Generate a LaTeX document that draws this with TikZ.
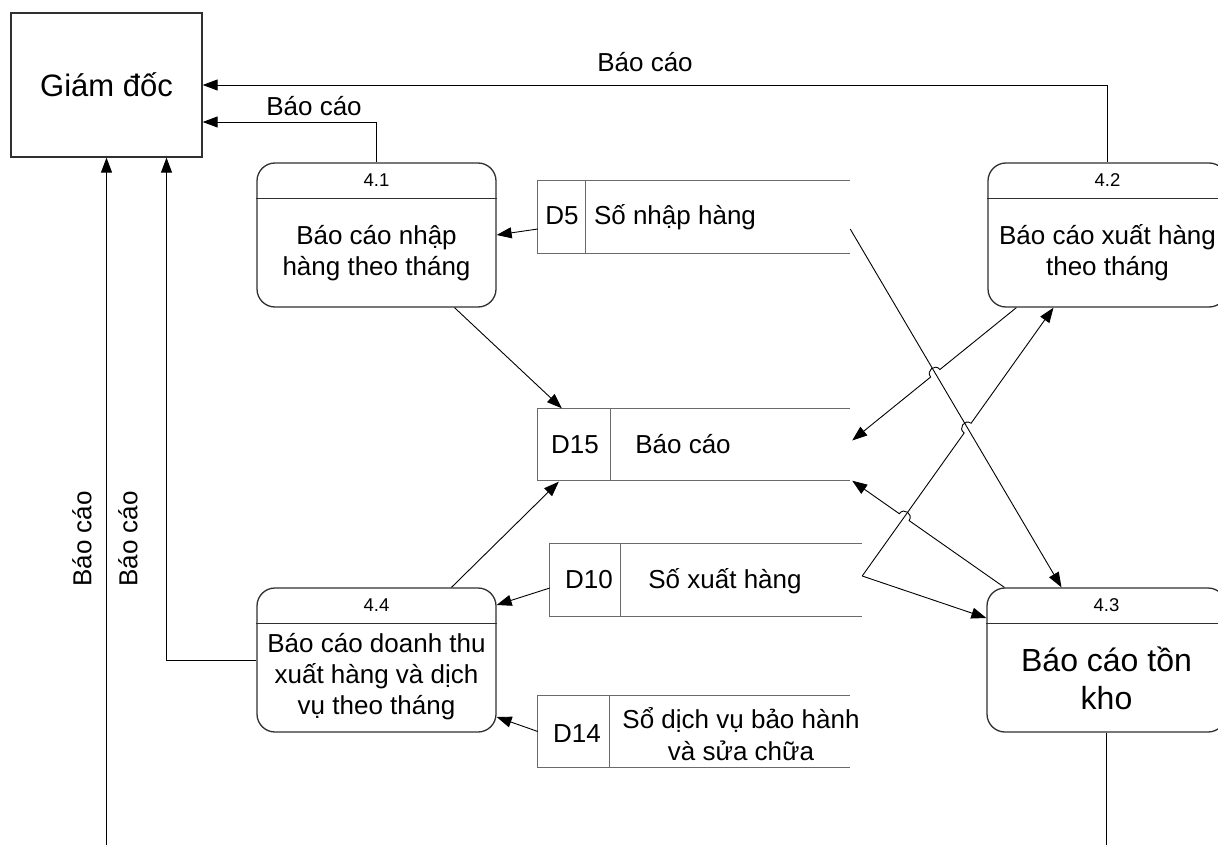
\documentclass[tikz,border=0pt]{standalone}
\usepackage{fontspec}
\setmainfont{Liberation Sans}
\usetikzlibrary{arrows.meta,calc,intersections}

\definecolor{boxline}{HTML}{303030}
\definecolor{storeline}{HTML}{6A6A6A}

\tikzset{
  proc/.style={draw=boxline, line width=1.3pt, rounded corners=18pt,
    minimum width=239pt, minimum height=144pt, inner sep=0pt},
  procrule/.style={draw=boxline, line width=1.3pt},
  store/.style={minimum width=312pt, minimum height=72pt, inner sep=0pt},
  storeedge/.style={draw=storeline, line width=1.3pt},
  numtxt/.style={font=\fontsize{18.5}{22}\selectfont, inner sep=0pt},
  bodytxt/.style={align=center, font=\fontsize{26}{31}\selectfont, inner sep=0pt},
  bigtxt/.style={align=center, font=\fontsize{32}{38}\selectfont, inner sep=0pt},
  storetxt/.style={align=center, font=\fontsize{26}{32}\selectfont, inner sep=0pt},
  storeword/.style={font=\fontsize{26}{32}\selectfont, inner sep=0pt, anchor=base},
  lbl/.style={font=\fontsize{26}{31}\selectfont, inner sep=0pt},
  flow/.style={draw=black, line width=0.9pt, -{Triangle[length=15pt,width=11pt]}},
  plain/.style={draw=black, line width=0.9pt},
  hopl/.style={bend left=90, looseness=1.7},
  hopr/.style={bend right=90, looseness=1.7}
}

\begin{document}
\begin{tikzpicture}[x=1pt, y=-1pt]
\useasboundingbox (0,0) rectangle (1218,845);
\fill[white] (0,0) rectangle (1218,845);
\clip (0,0) rectangle (1218,845);

% external entity
\node[draw=boxline, line width=1.3pt, minimum width=191pt, minimum height=144pt,
      font=\fontsize{31}{36}\selectfont] (gd) at (106.5,85) {Giám đốc};

% processes: rounded box, header rule, number and title
\node[proc] (p41) at (376.5,235) {};
\draw[procrule] ($(p41.north west)+(0,36)$) -- ($(p41.north east)+(0,36)$);
\node[numtxt] (p41n) at ($(p41.north)+(0,18)$) {4.1};
\node[bodytxt] (p41t) at ($(p41.center)+(0,18)$) {Báo cáo nhập\\hàng theo tháng};

\node[proc] (p42) at (1107.5,235) {};
\draw[procrule] ($(p42.north west)+(0,36)$) -- ($(p42.north east)+(0,36)$);
\node[numtxt] (p42n) at ($(p42.north)+(0,18)$) {4.2};
\node[bodytxt] (p42t) at ($(p42.center)+(0,18)$) {Báo cáo xuất hàng\\theo tháng};

\node[proc] (p43) at (1106.5,660) {};
\draw[procrule] ($(p43.north west)+(0,36)$) -- ($(p43.north east)+(0,36)$);
\node[numtxt] (p43n) at ($(p43.north)+(0,18)$) {4.3};
\node[bigtxt] (p43t) at ($(p43.center)+(0,18)$) {Báo cáo tồn\\kho};

\node[proc] (p44) at (376.5,660) {};
\draw[procrule] ($(p44.north west)+(0,36)$) -- ($(p44.north east)+(0,36)$);
\node[numtxt] (p44n) at ($(p44.north)+(0,18)$) {4.4};
\node[bodytxt] (p44t) at ($(p44.center)+(0,17)$) {Báo cáo doanh thu\\xuất hàng và dịch\\vụ theo tháng};

% data stores: open-ended boxes with an id column
\node[store] (d5) at (694,217) {};
\draw[storeedge] (d5.north east) -- (d5.north west) -- (d5.south west) -- (d5.south east);
\draw[storeedge] ($(d5.north west)+(48,0)$) -- ($(d5.south west)+(48,0)$);
\node[storeword] (d5id) at (562,225) {D5};
\node[storeword] (d5tx) at (675,225) {Số nhập hàng};

\node[store] (d15) at (694,444.5) {};
\draw[storeedge] (d15.north east) -- (d15.north west) -- (d15.south west) -- (d15.south east);
\draw[storeedge] ($(d15.north west)+(73,0)$) -- ($(d15.south west)+(73,0)$);
\node[storeword] (d15id) at (575,453) {D15};
\node[storeword] (d15tx) at (683,453) {Báo cáo};

\node[store] (d10) at (706,580) {};
\draw[storeedge] (d10.north east) -- (d10.north west) -- (d10.south west) -- (d10.south east);
\draw[storeedge] ($(d10.north west)+(71,0)$) -- ($(d10.south west)+(71,0)$);
\node[storeword] (d10id) at (589,588) {D10};
\node[storeword] (d10tx) at (725,588) {Số xuất hàng};

\node[store, minimum height=71pt] (d14) at (694,731.5) {};
\draw[storeedge] (d14.north east) -- (d14.north west) -- (d14.south west) -- (d14.south east);
\draw[storeedge] ($(d14.north west)+(72,0)$) -- ($(d14.south west)+(72,0)$);
\node[storeword] (d14id) at (577,742) {D14};
\node[storetxt] (d14tx) at (741,734) {Sổ dịch vụ bảo hành\\và sửa chữa};

% connector ports
\coordinate (gdin2) at ($(gd.east)+(0,37)$);
\coordinate (gdin4) at ($(gd.south)+(60,0)$);
\coordinate (botl) at (106.5,845);
\coordinate (botr) at (1106.5,845);
\coordinate (d5l) at ($(d5.west)+(0,12)$);
\coordinate (d5r) at ($(d5.east)+(0,12)$);
\coordinate (p41out) at ($(p41.south)+(78,0)$);
\coordinate (d15tl) at ($(d15.north west)+(24,0)$);
\coordinate (d15r) at ($(d15.east)+(2,-4)$);
\coordinate (d15br) at ($(d15.south east)+(2,0)$);
\coordinate (d15bl) at ($(d15.south west)+(21,1)$);
\coordinate (p42out) at ($(p42.south west)+(29,0)$);
\coordinate (p42in) at ($(p42.south)+(-54,0)$);
\coordinate (p43in) at ($(p43.north)+(-45,0)$);
\coordinate (p43out) at ($(p43.north west)+(18,0)$);
\coordinate (p43inl) at ($(p43.west)+(0,-42)$);
\coordinate (d10r) at ($(d10.east)+(0,-4)$);
\coordinate (d10l) at ($(d10.west)+(0,8)$);
\coordinate (p44out) at ($(p44.north)+(75,0)$);
\coordinate (p44in1) at ($(p44.east)+(0,-55)$);
\coordinate (p44in2) at ($(p44.east)+(0,57)$);

% reports to the director
\draw[flow] (p42.north) |- (gd.east);
\node[lbl] (l1) at (645,62) {Báo cáo};
\draw[flow] (p41.north) |- (gdin2);
\node[lbl] (l2) at (314,106) {Báo cáo};
\draw[flow] (botl) -- (gd.south);
\node[lbl, rotate=90] (l3) at (82,539) {Báo cáo};
\draw[flow] (p44.west) -| (gdin4);
\node[lbl, rotate=90] (l4) at (128,539) {Báo cáo};

% straight flows
\draw[flow] (d5l) -- (p41.east);
\draw[flow] (p41out) -- (d15tl);
\draw[flow] (d5r) -- (p43in);
\draw[flow] (d10r) -- (p43inl);
\draw[flow] (p44out) -- (d15bl);
\draw[flow] (d10l) -- (p44in1);
\draw[flow] (d14.west) -- (p44in2);
\draw[plain] (p43.south) -- (botr);

% crossing flows, drawn with line hops
\path[name path=l8] (d5r) -- (p43in);
\path[name path=l5] (p42out) -- (d15r);
\path[name path=l9] (d10r) -- (p42in);
\path[name path=l11] (p43out) -- (d15br);
\path[name intersections={of=l5 and l8, by=hA}];
\path[name intersections={of=l9 and l8, by=hB}];
\path[name intersections={of=l11 and l9, by=hC}];

\draw[flow] (p42out) -- ($(hA)!6pt!(p42out)$) to[hopr] ($(hA)!6pt!(d15r)$) -- (d15r);
\draw[flow] (d10r) -- ($(hB)!6pt!(d10r)$) to[hopl] ($(hB)!6pt!(p42in)$) -- (p42in);
\draw[flow] (p43out) -- ($(hC)!6pt!(p43out)$) to[hopr] ($(hC)!6pt!(d15br)$) -- (d15br);
\end{tikzpicture}
\end{document}
